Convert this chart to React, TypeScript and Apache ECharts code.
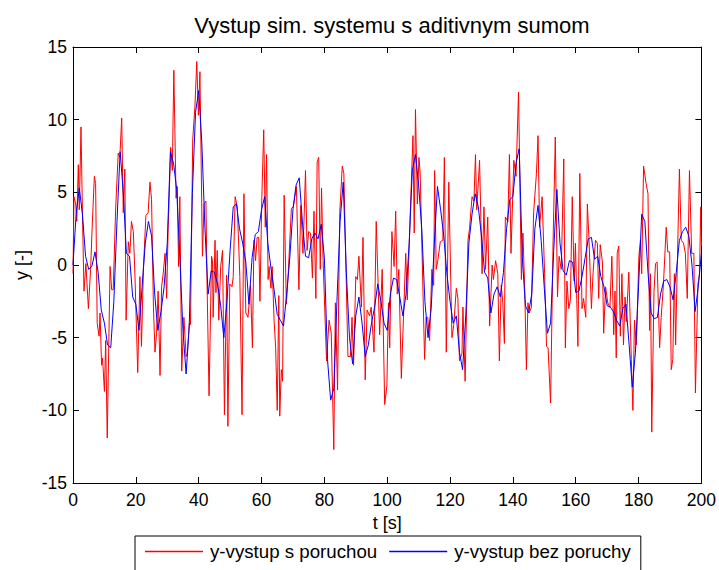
import React, { useEffect, useRef } from "react";
import * as echarts from "echarts";

const titleText = "Vystup sim. systemu s aditivnym sumom";
const xName = "t [s]";
const yName = "y [-]";
const redName = "y-vystup s poruchou";
const blueName = "y-vystup bez poruchy";

// red (with disturbance) – vertices [t, y]
const redPoints: [number, number][] = [
  [0, -0.6], [0.3, 4.7], [0.85, 4.2], [1.2, 3.0], [1.7, 6.9], [2, 3.8], [2.55, 9.5], [3, 3.6], [3.5, -1.8], [4.1, 0.1],
  [4.9, -3.0], [5.6, -0.3], [6.1, 2.6], [6.8, 6.1], [7.2, 5.6], [7.7, -4.0], [8.3, -4.9], [8.6, -3.3], [9.1, -6.9], [9.4, -6.4],
  [10, -8.7], [10.4, -5.2], [10.9, -11.9], [11.8, -0.1], [12.3, -1.7], [12.8, -1.7], [13.6, 4.0], [14.4, 7.7], [14.9, 7.4], [15.5, 10.1],
  [16, 3.6], [16.5, 6.6], [16.9, -3.8], [17.6, 1.6], [18.1, 0.8], [18.6, 3.0], [19.2, 2.3], [19.7, -0.6], [20.6, -7.4], [21.3, -0.8],
  [21.8, -5.6], [22.4, -0.3], [23.2, 3.4], [23.9, 3.6], [24.5, 5.7], [25, 4.5], [25.6, -2.9], [26.1, -6.0], [26.6, -4.7], [27.1, -1.8],
  [27.7, -7.6], [28.2, -1.5], [28.7, -0.6], [29.3, 0.8], [29.8, -2.3], [30.3, 2.6], [31.1, 8.1], [31.6, 6.5], [32.1, 13.4], [32.8, 4.6],
  [33.2, 5.4], [33.6, -0.1], [34, 4.7], [34.6, -7.3], [35.3, -3.6], [36, -6.3], [36.4, -6.1], [37, -4.0], [37.4, -4.1], [38.1, 8.6],
  [38.8, 10.9], [39.4, 14.0], [39.9, 10.3], [40.4, 13.3], [41.2, 0.6], [41.7, 4.2], [42.3, 4.4], [42.7, -1.7], [43.3, -9.0], [44.1, 0.6],
  [44.4, 0.3], [44.6, -3.6], [45.2, 1.7], [45.5, -1.9], [45.9, 1.0], [46.4, -3.8], [47, -0.1], [47.6, 1.0], [48.2, -10.3], [48.9, -0.7],
  [49.3, -11.1], [49.9, -1.3], [50.6, -1.5], [51, -0.8], [51.6, 4.7], [52.3, 4.0], [53.1, -0.8], [53.8, -10.3], [54.4, 4.9], [55, -3.3],
  [55.7, -3.6], [56.5, -1.4], [57.1, -5.7], [57.6, 1.7], [58.1, 0.3], [58.6, 1.9], [59.1, 1.9], [59.5, -2.5], [60.1, 4.7], [60.7, 9.3],
  [61.2, 2.6], [61.6, 7.6], [62.1, -1.0], [62.4, -0.1], [63, -1.6], [63.4, -0.1], [64, -3.8], [64.5, -5.7], [65, -10.0], [65.5, -2.1],
  [65.8, -10.4], [66.3, -7.2], [66.7, -8.0], [67.2, 4.8], [67.9, -2.7], [68.5, -0.6], [69.5, 3.9], [70.1, 4.0], [70.6, 4.7], [71.1, 5.4],
  [71.9, -1.7], [72.5, 4.1], [73.2, 0.8], [74, 6.5], [74.5, 1.0], [75, 2.3], [75.6, 2.2], [76.2, -0.9], [76.7, 3.7], [77.3, -2.3],
  [77.7, 7.1], [78.2, 7.4], [78.7, -0.3], [79.1, 5.3], [79.6, 0.3], [80.1, -2.9], [80.7, -6.6], [81.5, -3.8], [82.2, -4.7], [83, -12.7],
  [83.5, -2.6], [84.2, -8.6], [84.9, 3.6], [85.7, 6.8], [86.2, 6.3], [87.5, -6.3], [88.3, -6.3], [88.8, -3.6], [89.3, -6.9], [90, -0.8],
  [90.5, -1.0], [91, 0.6], [91.8, -2.9], [92.3, 1.9], [93, -7.9], [93.6, -3.1], [94.4, -3.5], [94.9, -2.9], [95.8, -6.0], [96.5, 3.0],
  [97.6, -4.8], [98.4, -0.3], [99.2, -9.6], [99.9, -8.3], [100.4, -2.6], [100.8, -5.7], [101.5, 2.3], [102.2, -0.1], [102.7, 3.7], [103.2, -2.0],
  [103.7, -0.3], [104.5, -7.8], [105.9, 0.8], [106.4, -2.4], [108.2, 8.9], [108.6, 2.2], [109, 10.7], [109.6, 4.2], [110.1, 7.4], [110.5, 6.3],
  [111.9, -6.5], [112.4, -3.6], [112.9, -3.6], [113.5, -5.2], [114.2, -0.3], [114.8, -1.4], [115.1, 6.5], [115.6, -0.3], [116.1, 0.3], [116.9, 1.6],
  [117.7, 1.7], [118.2, 7.4], [118.8, -6.0], [119.6, 5.7], [120.6, -5.0], [121.2, -4.1], [122, -1.6], [122.5, -2.3], [123, -6.6], [123.8, -6.1],
  [124.1, -2.9], [124.8, -8.0], [125.7, 1.7], [126.2, 2.5], [127, 4.7], [127.6, 4.4], [128.1, 7.6], [128.5, 3.8], [129.4, 7.2], [130.2, -0.6],
  [130.8, 4.0], [131.3, -0.3], [132, 3.3], [132.6, -4.2], [133.4, 0], [133.8, -1.0], [134.5, 0.3], [135.2, -0.6], [135.7, -6.6], [136.3, -1.4],
  [136.8, -2.6], [137.3, -5.4], [137.6, 3.3], [138.4, 3.0], [138.9, 7.6], [139.4, 0.8], [140.3, 7.2], [141, 6.1], [141.8, 11.9], [142.7, -1.0],
  [143.2, 2.2], [143.8, -1.9], [144.3, -7.2], [144.8, -2.6], [145.2, -3.3], [145.9, -2.9], [146.6, 3.6], [147.5, 6.3], [148, 8.9], [148.5, 2.6],
  [149.3, 4.7], [150.1, -0.6], [150.7, -5.6], [151.2, -5.7], [152, -9.5], [152.8, 1.7], [153.5, 8.8], [154.2, -2.2], [154.7, 0.6], [155.4, -0.3],
  [156.2, 7.3], [156.7, -5.7], [157.2, -1.1], [157.8, -3.0], [158.3, -2.4], [158.9, 4.7], [159.5, -1.1], [159.9, 1.5], [160.7, -5.6], [161.3, 6.3],
  [162, -3.0], [162.5, -2.3], [163.2, -3.6], [163.7, 4.2], [164.2, 1.9], [165, -3.0], [165.5, -0.6], [166.3, 1.7], [166.9, 1.5], [167.3, -2.3],
  [167.8, 1.4], [168.5, 0.2], [168.9, -4.7], [169.5, -1.5], [170.2, -2.6], [170.9, -2.9], [171.5, 0.6], [172.1, -4.8], [172.5, -1.8], [172.9, -6.4],
  [173.2, 0.8], [173.7, 1.3], [174.2, -4.9], [174.7, -0.6], [175.2, -5.5], [175.7, -2.2], [176.1, -3.9], [176.9, -0.5], [177.7, -6.5], [178.2, -10.0],
  [178.7, -3.8], [179.3, -5.5], [180.1, 0.6], [180.6, 1.7], [181, -0.6], [181.6, 6.8], [182.4, 5.6], [183, 4.9], [183.5, -4.5], [183.8, -0.6],
  [184.2, -11.5], [184.9, -1.9], [185.4, 0.1], [185.9, 0.2], [186.7, -5.7], [187.2, -3.6], [187.9, -1.4], [188.8, 2.6], [189.3, 0.9], [189.9, 0.9],
  [190.4, -7.2], [190.9, -6.5], [191.4, -0.6], [191.8, -5.5], [192.2, -1.3], [193, 6.6], [193.6, 1.7], [194.3, 1.5], [194.9, 0.8], [195.5, -2.3],
  [196.2, 6.5], [196.9, 0.8], [197.6, 0.8], [198.1, -8.8], [198.9, -1.3], [199.4, -0.6], [199.8, 4.0], [200, 1.3],
];

// blue (without disturbance) – one value per second, t = 0 ... 200
const blueValues: number[] = [
  0, 3.5, 5.3, 3.5, 0.6, -0.3, -0.1, 0.9, -0.5, -3.1,
  -4.0, -5.5, -5.7, -2.5, 3.0, 7.8, 5.0, 0.8, 0.6, -2.2,
  -2.7, -4.5, -1.5, 1.5, 3.0, 2.0, -2.0, -4.5, -3.2, -1.5,
  1.5, 7.8, 7.0, 5.2, 0.5, -4.5, -7.5, -4.2, 5.0, 10.5,
  12.0, 8.4, 2.5, -2.0, -0.4, -0.5, -1.3, -2.8, -5.0, -2.5,
  1.0, 4.0, 4.2, 2.5, 1.5, 0.2, -2.7, 0.5, 2.1, 2.3,
  3.8, 4.7, 1.5, -0.2, -1.7, -3.4, -3.8, -4.2, -2.0, 0.5,
  3.8, 5.5, 6.0, 3.0, 0.6, 0.5, 1.8, 2.2, 1.8, 2.8,
  0.5, -6.5, -9.3, -8.5, -2.5, 3.0, 5.7, -0.5, -5.0, -6.8,
  -3.5, -2.2, -4.0, -6.3, -5.5, -4.0, -2.9, -1.3, -2.5, -4.0,
  -4.5, -2.0, -0.9, -1.0, -2.2, -3.5, -2.0, 1.5, 6.5, 7.6,
  5.5, 2.5, -2.5, -5.0, -3.0, 1.5, 5.4, 3.8, 2.0, -0.6,
  -2.5, -4.0, -3.5, -6.0, -7.2, -3.5, 1.5, 3.5, 4.9, 4.0,
  2.0, -0.5, -0.9, -3.3, -2.0, -1.5, -2.2, -0.5, 2.5, 4.5,
  4.7, 7.0, 8.0, 0.5, -2.8, -3.3, -2.0, 2.5, 4.1, 1.7,
  -1.6, -4.7, -4.0, 1.0, 5.2, 1.5, -0.4, -0.7, 0.3, 0.2,
  -1.9, -1.8, -0.8, 0.5, 1.8, 1.9, 0.4, 0.6, -0.8, -1.5,
  -2.8, -2.9, -3.2, -3.8, -4.2, -3.0, -2.7, -5.5, -8.4, -6.0,
  -1.5, 3.5, 3.0, -0.5, -3.3, -3.7, -3.6, -2.0, -1.1, -1.0,
  -1.5, -2.4, -0.5, 1.7, 2.3, 2.6, 2.0, 0.0, -3.2, -1.5,
  0.8,
];

const xMin = 0;
const xMax = 200;
const xStep = 20;
const yMin = -15;
const yMax = 15;
const yStep = 5;

const FONT = "'Liberation Sans', Arial, Helvetica, sans-serif";

export default function App() {
  const ref = useRef<HTMLDivElement>(null);

  useEffect(() => {
    if (!ref.current) return;
    const chart = echarts.init(ref.current, undefined, { renderer: "svg" });
    const blueData = blueValues.map((v, i) => [i, v]);
    const tick = { show: true, inside: true, length: 6, lineStyle: { color: "#000", width: 1 } };
    const line = { show: true, onZero: false, lineStyle: { color: "#000", width: 1 } };
    chart.setOption({
      animation: false,
      backgroundColor: "#fff",
      textStyle: { fontFamily: FONT },
      title: {
        text: titleText,
        left: 387,
        top: 9,
        textAlign: "center",
        textStyle: { fontFamily: FONT, fontSize: 22, fontWeight: "normal", color: "#000" },
      },
      legend: {
        data: [redName, blueName],
        left: 135,
        top: 536,
        orient: "horizontal",
        padding: [6, 10, 12, 10],
        itemGap: 12,
        itemWidth: 58,
        itemHeight: 1.5,
        icon: "rect",
        borderColor: "#000",
        borderWidth: 1,
        backgroundColor: "#fff",
        textStyle: { fontFamily: FONT, fontSize: 18.7, color: "#000", padding: [0, 0, 0, 2] },
      },
      grid: { left: 73, right: 17, top: 47, bottom: 87, containLabel: false },
      xAxis: [
        {
          type: "value",
          min: xMin,
          max: xMax,
          interval: xStep,
          position: "bottom",
          name: xName,
          nameLocation: "middle",
          nameGap: 30,
          nameTextStyle: { fontFamily: FONT, fontSize: 18, color: "#000" },
          axisLine: line,
          axisTick: tick,
          axisLabel: { fontFamily: FONT, fontSize: 17.5, color: "#000", margin: 8 },
          splitLine: { show: false },
        },
        {
          type: "value",
          min: xMin,
          max: xMax,
          interval: xStep,
          position: "top",
          axisLine: line,
          axisTick: tick,
          axisLabel: { show: false },
          splitLine: { show: false },
        },
      ],
      yAxis: [
        {
          type: "value",
          min: yMin,
          max: yMax,
          interval: yStep,
          position: "left",
          name: yName,
          nameLocation: "middle",
          nameGap: 42,
          nameRotate: 90,
          nameTextStyle: { fontFamily: FONT, fontSize: 18, color: "#000" },
          axisLine: line,
          axisTick: tick,
          axisLabel: { fontFamily: FONT, fontSize: 17.5, color: "#000", margin: 6 },
          splitLine: { show: false },
        },
        {
          type: "value",
          min: yMin,
          max: yMax,
          interval: yStep,
          position: "right",
          axisLine: line,
          axisTick: tick,
          axisLabel: { show: false },
          splitLine: { show: false },
        },
      ],
      series: [
        {
          name: redName,
          type: "line",
          xAxisIndex: 0,
          yAxisIndex: 0,
          data: redPoints,
          showSymbol: false,
          symbol: "none",
          color: "#ff0000",
          lineStyle: { color: "#ff0000", width: 1 },
        },
        {
          name: blueName,
          type: "line",
          xAxisIndex: 0,
          yAxisIndex: 0,
          data: blueData,
          showSymbol: false,
          symbol: "none",
          color: "#0000ff",
          lineStyle: { color: "#0000ff", width: 1 },
        },
      ],
    });
    return () => chart.dispose();
  }, []);

  return (
    <div
      ref={ref}
      style={{ position: "absolute", left: 0, top: 0, width: 719, height: 570, background: "#fff" }}
    />
  );
}
